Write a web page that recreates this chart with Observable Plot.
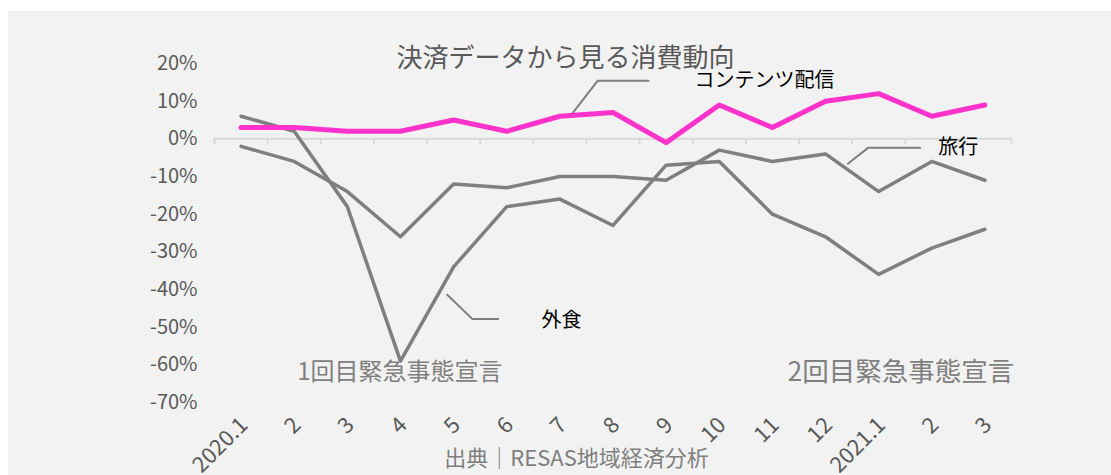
<!DOCTYPE html>
<html><head><meta charset="utf-8">
<script src="https://cdn.jsdelivr.net/npm/d3@7"></script>
<script src="https://cdn.jsdelivr.net/npm/@observablehq/plot@0.6"></script>
<style>
body{margin:0;background:#fff;}
#wrap{position:relative;width:1111px;height:475px;overflow:hidden;}
#panel{position:absolute;left:8px;top:11px;right:0;bottom:0;background:#f2f2f2;}
#chart{position:absolute;left:0;top:0;}
</style></head><body>
<div id="wrap"><div id="panel"></div><div id="chart"></div></div>
<script>
const title = "決済データから見る消費動向";
const source = "出典｜RESAS地域経済分析";
const months = ["2020.1","2","3","4","5","6","7","8","9","10","11","12","2021.1","2","3"];
const contentDelivery = [3,3,2,2,5,2,6,7,-1,9,3,10,12,6,9];
const diningOut = [6,2,-18,-59,-34,-18,-16,-23,-7,-6,-20,-26,-36,-29,-24];
const travel = [-2,-6,-14,-26,-12,-13,-10,-10,-11,-3,-6,-4,-14,-6,-11];
const yTicks = [20,10,0,-10,-20,-30,-40,-50,-60,-70];

// series labels (position in month index / percent units) and leader lines
const seriesLabels = [
  {text: "コンテンツ配信", x: 9.85, y: 15.4},
  {text: "旅行", x: 13.5, y: -2.4},
  {text: "外食", x: 6.03, y: -48.3}
];
const leaders = [
  {id: "c", x: 6.2, y: 6.1}, {id: "c", x: 6.71, y: 15.4}, {id: "c", x: 7.67, y: 15.4},
  {id: "t", x: 11.42, y: -6.6}, {id: "t", x: 11.8, y: -2.4}, {id: "t", x: 12.78, y: -2.4},
  {id: "d", x: 3.88, y: -41.4}, {id: "d", x: 4.35, y: -47.8}, {id: "d", x: 4.84, y: -47.8}
];
const notes = [
  {text: "1回目緊急事態宣言", x: 2.99, y: -62.1, size: 24},
  {text: "2回目緊急事態宣言", x: 12.42, y: -62.1, size: 26.5}
];

const toRows = (vals, name) => vals.map((v, i) => ({i, v, name}));
const greyRows = [...toRows(diningOut, "外食"), ...toRows(travel, "旅行")];
const pinkRows = toRows(contentDelivery, "コンテンツ配信");
const bounds = d3.range(months.length + 1).map(k => k - 0.5);

const font = "'Noto Sans CJK JP', 'Noto Sans', sans-serif";
const chart = Plot.plot({
  width: 1111,
  height: 475,
  marginLeft: 214,
  marginRight: 100,
  marginTop: 63,
  marginBottom: 73,
  style: {background: "transparent", fontFamily: font, fontSize: "20px"},
  x: {domain: [-0.5, months.length - 0.5], axis: null},
  y: {domain: [-70, 20]},
  marks: [
    Plot.axisY({ticks: yTicks, tickFormat: d => `${d}%`, tickSize: 0, tickPadding: 17, fontSize: 20, color: "#595959", fill: "#595959"}),
    Plot.ruleY([0], {x1: -0.5, x2: months.length - 0.5, stroke: "#d9d9d9", strokeWidth: 2}),
    Plot.ruleX(bounds, {x: d => d, y1: 0, y2: -1.5, stroke: "#d9d9d9", strokeWidth: 2}),
    Plot.text(months, {x: (d, i) => i, frameAnchor: "bottom", dy: 19, dx: 3, rotate: -45, textAnchor: "end", lineAnchor: "middle", fontSize: 22, fill: "#595959"}),
    Plot.line(leaders, {x: "x", y: "y", z: "id", stroke: "#7f7f7f", strokeWidth: 2}),
    Plot.line(greyRows, {x: "i", y: "v", z: "name", stroke: "#7f7f7f", strokeWidth: 3.5, strokeLinejoin: "round"}),
    Plot.line(pinkRows, {x: "i", y: "v", stroke: "#ff33cc", strokeWidth: 5, strokeLinejoin: "round", strokeLinecap: "round"}),
    Plot.text(seriesLabels, {x: "x", y: "y", text: "text", fontSize: 20, fill: "black"}),
    Plot.text(notes, {x: "x", y: "y", text: "text", fontSize: d => d.size, fill: "#7f7f7f"}),
    Plot.text([title], {frameAnchor: "top", dx: -47.5, dy: -15, fontSize: 26, fill: "#595959"}),
    Plot.text([source], {frameAnchor: "bottom", dx: -36.5, dy: 63, fontSize: 22, fill: "#7f7f7f"})
  ]
});
document.getElementById("chart").appendChild(chart);
</script>
</body></html>
